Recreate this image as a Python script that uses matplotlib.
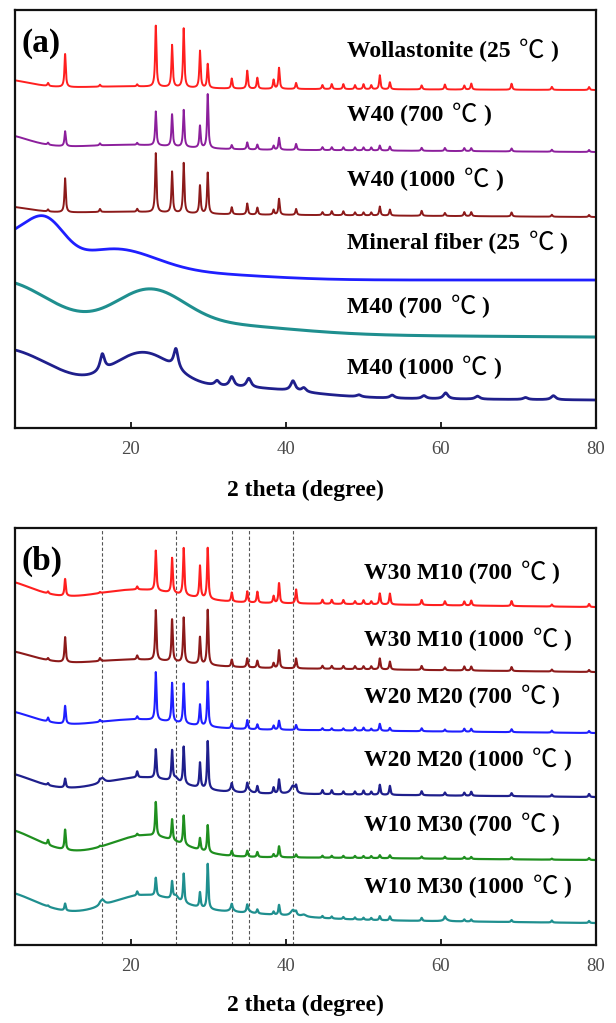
import numpy as np
import matplotlib
matplotlib.use("Agg")
import matplotlib.pyplot as plt

# wollastonite reflections (2 theta) and the extra phase seen after firing mineral fiber
WOLL_POS = [9.3, 11.5, 16.0, 20.8, 23.2, 25.3, 26.8, 28.9, 29.9, 33.0, 35.0, 36.3, 38.4, 39.1, 41.3,
            44.7, 45.9, 47.4, 48.9, 50.0, 51.0, 52.1, 53.4, 57.5, 60.5, 63.0, 63.9, 69.1, 74.3, 79.1]
MPHASE_POS = [16.3, 25.8, 31.1, 33.0, 35.2, 40.9, 42.3, 49.4, 53.7, 57.8, 60.6, 64.7, 70.9, 74.5]

# ---- panel (a) ----
A_NAMES = ["Wollastonite (25", "W40 (700", "W40 (1000",
           "Mineral fiber (25", "M40 (700", "M40 (1000"]
A_BASE_LEFT = [340, 280, 215, 148, 95, 32]
A_BASE_RIGHT = [338, 276, 211, 148, 91, 28]
A_HUMPS = [
    [(3, 9, 3.5), (20, 2, 6)],
    [(3, 14, 3.5), (20, 4, 6)],
    [(3, 7, 3.5), (20, 2, 6)],
    [(4, 38, 3), (9, 45, 2.5), (17.5, 28, 5.5), (28, 6, 9)],
    [(3, 52, 6.5), (22.3, 37, 4.5), (30, 10, 10)],
    [(3, 48, 7), (21.5, 40, 4), (34, 10, 8)],
]
A_WOLL = [
    [3, 33, 2, 2, 61, 42, 59, 37, 24, 10, 18, 11, 9, 21, 6, 4, 5, 5, 4, 5, 4, 14, 7, 4, 5, 4, 6, 6, 3, 3],
    [2, 15, 2, 2, 34, 32, 37, 22, 54, 4, 7, 5, 4, 12, 6, 3, 3, 3, 3, 3, 3, 5, 4, 3, 3, 3, 3, 3, 2, 2],
    [2, 34, 3, 3, 59, 41, 50, 28, 41, 7, 11, 7, 5, 16, 6, 3, 4, 4, 3, 3, 3, 9, 6, 5, 3, 4, 4, 4, 2, 2],
    [0] * 30,
    [0] * 30,
    [0] * 30,
]
A_MPHASE = [
    [0] * 14,
    [0] * 14,
    [0] * 14,
    [0] * 14,
    [0] * 14,
    [17, 20, 5, 10, 9, 10, 4, 2, 3, 3, 6, 3, 2, 4],
]

# ---- panel (b) ----
B_NAMES = ["W30 M10 (700", "W30 M10 (1000", "W20 M20 (700",
           "W20 M20 (1000", "W10 M30 (700", "W10 M30 (1000"]
B_BASE_LEFT = [345, 280, 218, 154, 90, 29]
B_BASE_RIGHT = [338, 273, 212, 148, 85, 22]
B_HUMPS = [
    [(3, 20, 4), (21, 12, 5.5)],
    [(3, 15, 4), (21, 7, 6)],
    [(3, 17, 4), (21, 9, 5.5)],
    [(3, 19, 4), (21.5, 15, 5)],
    [(3, 27, 4.5), (22, 21, 4.5)],
    [(3, 25, 4.5), (21.5, 20, 4.5), (32, 6, 8)],
]
B_WOLL = [
    [2, 17, 1, 3, 40, 35, 47, 32, 51, 9, 11, 11, 7, 20, 14, 4, 4, 4, 3, 4, 3, 11, 11, 5, 4, 4, 5, 5, 2, 3],
    [2, 25, 3, 4, 50, 42, 45, 27, 55, 7, 9, 7, 5, 18, 10, 3, 3, 3, 3, 3, 3, 11, 8, 4, 3, 4, 4, 4, 2, 2],
    [4, 18, 2, 3, 48, 39, 40, 21, 45, 5, 9, 5, 4, 9, 5, 2, 2, 2, 3, 3, 2, 7, 3, 3, 2, 3, 3, 3, 2, 2],
    [2, 9, 2, 6, 29, 30, 37, 25, 48, 6, 8, 7, 6, 14, 6, 4, 4, 3, 3, 4, 3, 10, 9, 4, 3, 3, 4, 3, 2, 3],
    [5, 20, 1, 2, 34, 21, 29, 12, 27, 5, 6, 5, 3, 11, 3, 2, 2, 2, 2, 2, 2, 3, 3, 2, 2, 2, 2, 2, 1, 2],
    [1, 7, 1, 4, 18, 17, 29, 15, 45, 5, 7, 4, 3, 10, 3, 2, 2, 2, 2, 2, 2, 4, 4, 3, 3, 2, 2, 2, 2, 2],
]
B_MPHASE = [
    [0] * 14,
    [0] * 14,
    [0] * 14,
    [5, 4, 0, 3, 3, 8, 0, 0, 0, 0, 0, 0, 0, 0],
    [0] * 14,
    [6, 5, 0, 3, 2, 6, 2, 0, 0, 0, 2, 0, 0, 0],
]
B_GUIDES = [16.3, 25.8, 33.0, 35.2, 40.9]

XTICKS = [20, 40, 60, 80]

# styling / layout
A_COLORS = ["#ff1f1f", "#8c1f9c", "#8c1a1a", "#1f1fff", "#1f8f8f", "#1f1f8c"]
B_COLORS = ["#ff1f1f", "#8c1a1a", "#1f1fff", "#1f1f8c", "#1f8f1f", "#1f8f8f"]
A_WIDTHS = [1.4, 1.4, 1.4, 2.0, 2.2, 2.0]
B_WIDTHS = [1.5, 1.5, 1.5, 1.6, 1.6, 1.6]
A_LABEL_Y = [377, 313, 248, 185, 121, 60]
B_LABEL_Y = [372, 305, 248, 185, 120, 58]
LABEL_SIZE = 17

SERIF = ["Liberation Serif", "DejaVu Serif"]
CJK = ["Noto Sans CJK SC", "DejaVu Sans"]
plt.rcParams["font.family"] = SERIF

x = np.linspace(5, 80, 3751)


def pattern(b_left, b_right, humps, woll_h, mph_h):
    y = b_left + (b_right - b_left) * (x - 5) / 75.0
    for c, a, s in humps:
        y = y + a * np.exp(-(x - c) ** 2 / (2 * s ** 2))
    hw = 0.1
    for p, h in zip(WOLL_POS, woll_h):
        y = y + h * hw ** 2 / ((x - p) ** 2 + hw ** 2)
    hw = 0.35
    for p, h in zip(MPHASE_POS, mph_h):
        y = y + h * hw ** 2 / ((x - p) ** 2 + hw ** 2)
    return y


def sample_label(ax, xpos, ypos, name):
    # name in bold serif, then a full-width degree-Celsius sign, then the closing bracket
    t1 = ax.text(xpos, ypos, name, fontsize=LABEL_SIZE, fontweight="bold",
                 va="center", ha="left")
    deg_size = LABEL_SIZE * 1.08
    ax.annotate("℃", xy=(1, 0.5), xycoords=t1, xytext=(6, 0), textcoords="offset points",
                fontsize=deg_size, family=CJK, va="center", ha="left")
    ax.annotate(")", xy=(1, 0), xycoords=t1, xytext=(deg_size + 10, 0),
                textcoords="offset points", fontsize=LABEL_SIZE, fontweight="bold",
                va="bottom", ha="left")


def draw_panel(ax, tag, names, bl, br, humps, woll, mph, colors, widths, label_y, label_x, top,
               guides=()):
    for g in guides:
        ax.axvline(g, color="#555555", lw=0.8, ls=(0, (3, 2)), zorder=0)
    for i in range(len(names)):
        y = pattern(bl[i], br[i], humps[i], woll[i], mph[i])
        ax.plot(x, y, color=colors[i], lw=widths[i], solid_joinstyle="round")
        sample_label(ax, label_x, label_y[i], names[i])
    ax.text(0.012, 0.92, tag, transform=ax.transAxes, fontsize=24, fontweight="bold",
            va="center", ha="left")
    ax.set_xlim(5, 80)
    ax.set_ylim(0, top)
    ax.set_xticks(XTICKS)
    ax.set_yticks([])
    ax.tick_params(axis="x", direction="in", length=4, width=1.2, pad=9,
                   labelsize=13.5, labelcolor="#4a4a4a")
    for s in ax.spines.values():
        s.set_linewidth(1.6)
        s.set_color("#111111")


fig = plt.figure(figsize=(6.16, 10.23), dpi=100)
ax_a = fig.add_axes([0.0239, 0.5816, 0.9437, 0.4086])
ax_b = fig.add_axes([0.0239, 0.0762, 0.9437, 0.4076])

draw_panel(ax_a, "(a)", A_NAMES, A_BASE_LEFT, A_BASE_RIGHT, A_HUMPS, A_WOLL, A_MPHASE,
           A_COLORS, A_WIDTHS, A_LABEL_Y, 47.9, 418)
draw_panel(ax_b, "(b)", B_NAMES, B_BASE_LEFT, B_BASE_RIGHT, B_HUMPS, B_WOLL, B_MPHASE,
           B_COLORS, B_WIDTHS, B_LABEL_Y, 50.1, 417, guides=B_GUIDES)

fig.text(0.4958, 1 - 490 / 1023, "2 theta (degree)", ha="center", va="center",
         fontsize=17, fontweight="bold")
fig.text(0.4958, 1 - 1005 / 1023, "2 theta (degree)", ha="center", va="center",
         fontsize=17, fontweight="bold")

fig.savefig("out.png", dpi=100)
